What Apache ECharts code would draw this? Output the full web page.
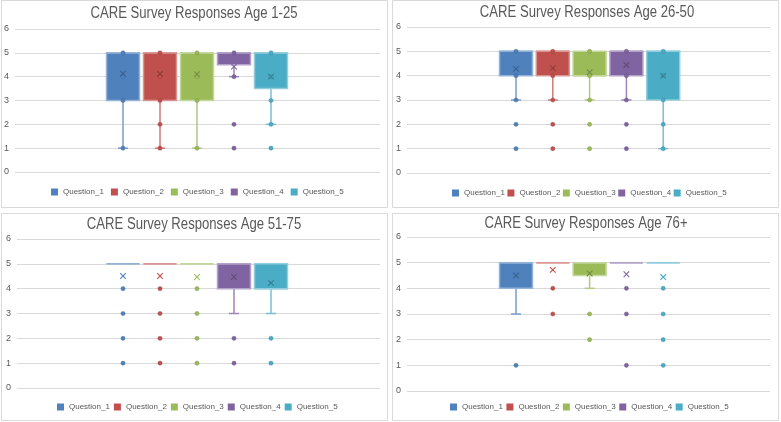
<!DOCTYPE html>
<html><head><meta charset="utf-8">
<script src="https://cdn.jsdelivr.net/npm/echarts@6/dist/echarts.min.js"></script>
<style>html,body{margin:0;padding:0;background:#fff}#c{width:781px;height:422px}</style>
</head><body><div id="c"></div>
<script>
// ---------- data ----------
const questions = ['Question_1', 'Question_2', 'Question_3', 'Question_4', 'Question_5'];
const titles = ['CARE Survey Responses Age 1-25', 'CARE Survey Responses Age 26-50',
                'CARE Survey Responses Age 51-75', 'CARE Survey Responses Age 76+'];
const yTicks = [0, 1, 2, 3, 4, 5, 6];

// box statistics per question: [min whisker, Q1, median, Q3, max whisker]
const stats_1_25  = [[1, 3, 5, 5, 5], [1, 3, 5, 5, 5], [1, 3, 5, 5, 5], [4, 4.5, 5, 5, 5], [2, 3.5, 5, 5, 5]];
const stats_26_50 = [[3, 4, 5, 5, 5], [3, 4, 5, 5, 5], [3, 4, 4, 5, 5], [3, 4, 5, 5, 5], [1, 3, 5, 5, 5]];
const stats_51_75 = [[5, 5, 5, 5, 5], [5, 5, 5, 5, 5], [5, 5, 5, 5, 5], [3, 4, 5, 5, 5], [3, 4, 4, 5, 5]];
const stats_76    = [[3, 4, 5, 5, 5], [5, 5, 5, 5, 5], [4, 4.5, 5, 5, 5], [5, 5, 5, 5, 5], [5, 5, 5, 5, 5]];

// means (x markers)
const means_1_25  = [4.13, 4.12, 4.1, 4.42, 4.0];
const means_26_50 = [4.28, 4.31, 4.14, 4.44, 3.99];
const means_51_75 = [4.51, 4.51, 4.47, 4.47, 4.23];
const means_76    = [4.5, 4.72, 4.58, 4.55, 4.44];

// individual points shown as dots (inner points and outliers)
const points_1_25  = [[5, 4, 3, 1], [5, 4, 3, 2, 1], [5, 4, 3, 1], [5, 4, 2, 1], [5, 4, 3, 2, 1]];
const points_26_50 = [[5, 4, 3, 2, 1], [5, 4, 3, 2, 1], [5, 4, 3, 2, 1], [5, 4, 3, 2, 1], [5, 4, 3, 2, 1]];
const points_51_75 = [[4, 3, 2, 1], [4, 3, 2, 1], [4, 3, 2, 1], [2, 1], [2, 1]];
const points_76    = [[1], [4, 3], [3, 2], [4, 3, 1], [4, 3, 2, 1]];

// ---------- styles / layout ----------
const colors = ['#4F81BD', '#C0504D', '#9BBB59', '#8064A2', '#4BACC6'];
const lightColors = ['#95B3D7', '#D99694', '#C3D69B', '#B3A2C7', '#93CDDD'];
const midColors = ['#7A9CC8', '#CF7B78', '#B2CA80', '#9C86B9', '#78BFD3'];
const darkColors = ['#3B618E', '#903C3A', '#748C43', '#604B7A', '#388195'];
const FONT = "'Liberation Sans', Arial, sans-serif";

const panelStats = [stats_1_25, stats_26_50, stats_51_75, stats_76];
const panelMeans = [means_1_25, means_26_50, means_51_75, means_76];
const panelPoints = [points_1_25, points_26_50, points_51_75, points_76];

const panels = [
  {box: [1.5, 0.5, 386, 207], grid: {left: 15, top: 29, width: 365, height: 143}, xr: [-1.919, 7.946],
   title: [194, 14], legend: [51, 188], legendGap: 7},
  {box: [392.5, 0.5, 386, 207], grid: {left: 407, top: 27, width: 363, height: 146}, xr: [-1.962, 7.902],
   title: [587, 12.5], legend: [452, 189], legendGap: 2.5},
  {box: [1.5, 213.5, 386, 207], grid: {left: 17, top: 239, width: 363, height: 149}, xr: [-1.865, 7.946],
   title: [194, 225], legend: [57, 403], legendGap: 4},
  {box: [392.5, 213.5, 386, 207], grid: {left: 407, top: 237, width: 363, height: 154}, xr: [-1.962, 7.902],
   title: [586, 224], legend: [450, 403], legendGap: 3.5}
];
const BOX_W = 33, CAP_W = 10, MARK = 2.8, DOT_R = 2.1;

function makeRenderer(pointsList) {
  return function (params, api) {
    const x = api.value(0);
    const q = x - 1;
    const vmin = api.value(1), q1 = api.value(2), med = api.value(3), q3 = api.value(4), vmax = api.value(5), mean = api.value(6);
    const py = v => api.coord([x, v])[1];
    const cx = api.coord([x, q1])[0];
    const hw = BOX_W / 2, cw = CAP_W / 2;
    const ch = [];
    const wStyle = {stroke: midColors[q], lineWidth: 1.5};
    if (vmin < q1) {
      ch.push({type: 'line', shape: {x1: cx, y1: py(q1), x2: cx, y2: py(vmin)}, style: wStyle});
      ch.push({type: 'line', shape: {x1: cx - cw, y1: py(vmin), x2: cx + cw, y2: py(vmin)}, style: wStyle});
    }
    if (vmax > q3) {
      ch.push({type: 'line', shape: {x1: cx, y1: py(q3), x2: cx, y2: py(vmax)}, style: wStyle});
      ch.push({type: 'line', shape: {x1: cx - cw, y1: py(vmax), x2: cx + cw, y2: py(vmax)}, style: wStyle});
    }
    ch.push({type: 'rect', shape: {x: cx - hw, y: py(q3), width: BOX_W, height: py(q1) - py(q3)},
             style: {fill: colors[q], stroke: lightColors[q], lineWidth: 1.5}});
    ch.push({type: 'line', shape: {x1: cx - hw, y1: py(med), x2: cx + hw, y2: py(med)},
             style: {stroke: lightColors[q], lineWidth: 1.5}});
    pointsList[q].forEach(function (v) {
      ch.push({type: 'circle', shape: {cx: cx, cy: py(v), r: DOT_R}, style: {fill: colors[q], stroke: darkColors[q], lineWidth: 0.4}});
    });
    const my = py(mean);
    const inBox = q3 > q1 && mean >= q1 && mean <= q3;
    const mStyle = {stroke: inBox ? darkColors[q] : colors[q], lineWidth: 1.1};
    ch.push({type: 'line', shape: {x1: cx - MARK, y1: my - MARK, x2: cx + MARK, y2: my + MARK}, style: mStyle});
    ch.push({type: 'line', shape: {x1: cx - MARK, y1: my + MARK, x2: cx + MARK, y2: my - MARK}, style: mStyle});
    return {type: 'group', children: ch};
  };
}

const graphics = panels.map(p => ({type: 'rect', z: -10, silent: true,
    shape: {x: p.box[0], y: p.box[1], width: p.box[2], height: p.box[3]},
    style: {fill: '#ffffff', stroke: '#D9D9D9', lineWidth: 1}}));
panels.forEach(function (p, i) {
  graphics.push({type: 'text', x: p.title[0], y: p.title[1], scaleX: 0.82, z: 10, silent: true,
    style: {text: titles[i], font: "16px " + FONT, fill: '#595959', textAlign: 'center', textVerticalAlign: 'middle'}});
});

const option = {
  animation: false,
  backgroundColor: '#ffffff',
  graphic: graphics,
  legend: panels.map((p, i) => ({data: questions, left: p.legend[0], top: p.legend[1], width: 380, padding: 0,
    orient: 'horizontal', icon: 'rect', itemWidth: 7, itemHeight: 7, itemGap: p.legendGap,
    textStyle: {fontFamily: FONT, fontSize: 8, color: '#595959'}})),
  grid: panels.map(p => Object.assign({containLabel: false, outerBoundsMode: 'none'}, p.grid)),
  xAxis: panels.map((p, i) => ({type: 'value', gridIndex: i, min: p.xr[0], max: p.xr[1], show: false})),
  yAxis: panels.map((p, i) => ({type: 'value', gridIndex: i,
    min: yTicks[0], max: yTicks[yTicks.length - 1], interval: yTicks[1] - yTicks[0],
    axisLine: {show: false}, axisTick: {show: false},
    axisLabel: {fontFamily: FONT, fontSize: 9, color: '#595959', margin: 6},
    splitLine: {show: true, lineStyle: {color: '#D9D9D9', width: 1}}})),
  series: []
};

panels.forEach(function (p, i) {
  questions.forEach(function (name, q) {
    option.series.push({
      type: 'custom', name: name, xAxisIndex: i, yAxisIndex: i,
      itemStyle: {color: colors[q]},
      renderItem: makeRenderer(panelPoints[i]),
      encode: {x: 0, y: [1, 2, 3, 4, 5, 6]},
      data: [[q + 1].concat(panelStats[i][q], [panelMeans[i][q]])],
      clip: false
    });
  });
});

const chart = echarts.init(document.getElementById('c'), null, {renderer: 'canvas'});
chart.setOption(option);
</script></body></html>
